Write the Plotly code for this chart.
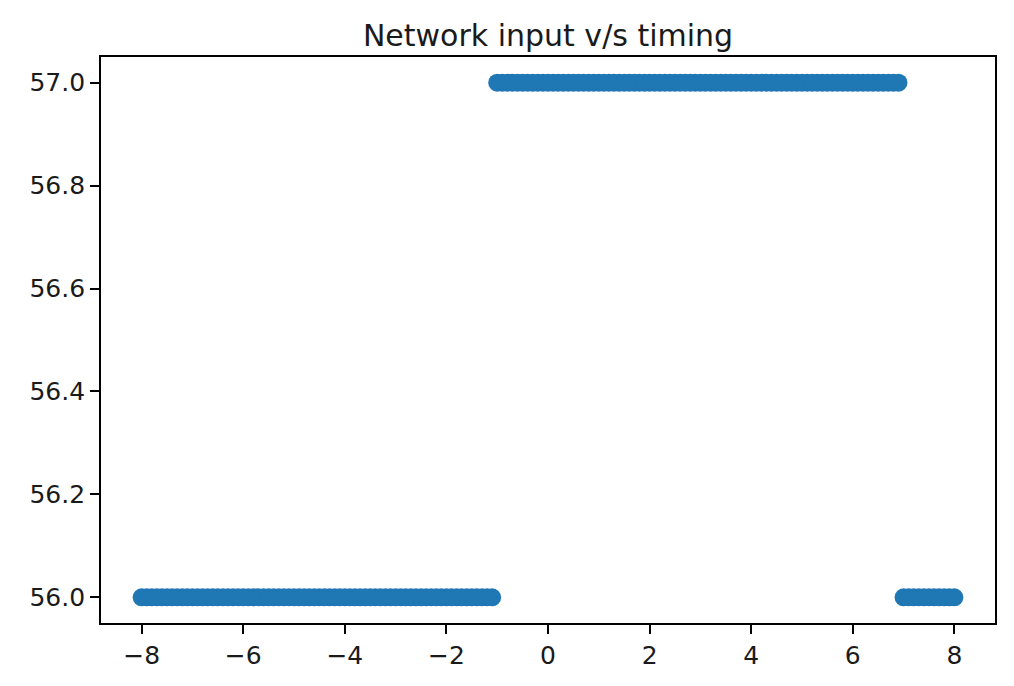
import plotly.graph_objects as go

# Data
x_low_left = [-8.0, -7.9, -7.8, -7.7, -7.6, -7.5, -7.4, -7.3, -7.2, -7.1,
              -7.0, -6.9, -6.8, -6.7, -6.6, -6.5, -6.4, -6.3, -6.2, -6.1,
              -6.0, -5.9, -5.8, -5.7, -5.6, -5.5, -5.4, -5.3, -5.2, -5.1,
              -5.0, -4.9, -4.8, -4.7, -4.6, -4.5, -4.4, -4.3, -4.2, -4.1,
              -4.0, -3.9, -3.8, -3.7, -3.6, -3.5, -3.4, -3.3, -3.2, -3.1,
              -3.0, -2.9, -2.8, -2.7, -2.6, -2.5, -2.4, -2.3, -2.2, -2.1,
              -2.0, -1.9, -1.8, -1.7, -1.6, -1.5, -1.4, -1.3, -1.2, -1.1]
x_high = [-1.0, -0.9, -0.8, -0.7, -0.6, -0.5, -0.4, -0.3, -0.2, -0.1,
          0.0, 0.1, 0.2, 0.3, 0.4, 0.5, 0.6, 0.7, 0.8, 0.9,
          1.0, 1.1, 1.2, 1.3, 1.4, 1.5, 1.6, 1.7, 1.8, 1.9,
          2.0, 2.1, 2.2, 2.3, 2.4, 2.5, 2.6, 2.7, 2.8, 2.9,
          3.0, 3.1, 3.2, 3.3, 3.4, 3.5, 3.6, 3.7, 3.8, 3.9,
          4.0, 4.1, 4.2, 4.3, 4.4, 4.5, 4.6, 4.7, 4.8, 4.9,
          5.0, 5.1, 5.2, 5.3, 5.4, 5.5, 5.6, 5.7, 5.8, 5.9,
          6.0, 6.1, 6.2, 6.3, 6.4, 6.5, 6.6, 6.7, 6.8, 6.9]
x_low_right = [7.0, 7.1, 7.2, 7.3, 7.4, 7.5, 7.6, 7.7, 7.8, 7.9, 8.0]

low_value = 56.0
high_value = 57.0

x_tick_vals = [-8, -6, -4, -2, 0, 2, 4, 6, 8]
x_tick_text = ["\u22128", "\u22126", "\u22124", "\u22122", "0", "2", "4", "6", "8"]
y_tick_vals = [56.0, 56.2, 56.4, 56.6, 56.8, 57.0]
y_tick_text = ["56.0", "56.2", "56.4", "56.6", "56.8", "57.0"]

title_text = "Network input v/s timing"

x_all = x_low_left + x_high + x_low_right
y_all = ([low_value] * len(x_low_left) + [high_value] * len(x_high)
         + [low_value] * len(x_low_right))

fig = go.Figure()
fig.add_trace(go.Scatter(
    x=x_all, y=y_all, mode="markers",
    marker=dict(size=18, color="#1f77b4", line=dict(width=0)),
    showlegend=False, hoverinfo="skip",
))

font_family = "DejaVu Sans"
text_color = "#1a1a1a"
fig.update_layout(
    width=1014, height=686,
    margin=dict(l=101, r=19, t=57, b=63),
    paper_bgcolor="white", plot_bgcolor="white",
    font=dict(family=font_family, size=25, color=text_color),
    title=dict(text=title_text, x=0.5, xref="paper", xanchor="center",
               y=1 - 35 / 686, yref="container", yanchor="middle",
               font=dict(family=font_family, size=30, color=text_color)),
    xaxis=dict(range=[-8.8, 8.8], tickvals=x_tick_vals, ticktext=x_tick_text,
               showgrid=False, zeroline=False, showline=True, mirror=True,
               linecolor="black", linewidth=1.8, ticks="outside", ticklen=9,
               tickwidth=1.8, tickcolor="black",
               tickfont=dict(family=font_family, size=25, color=text_color)),
    yaxis=dict(range=[55.95, 57.05], tickvals=y_tick_vals, ticktext=y_tick_text,
               showgrid=False, zeroline=False, showline=True, mirror=True,
               linecolor="black", linewidth=1.8, ticks="outside", ticklen=9,
               tickwidth=1.8, tickcolor="black",
               tickfont=dict(family=font_family, size=25, color=text_color)),
)

fig.write_html("out.html", config={"displayModeBar": False},
               post_script="document.body.style.margin='0';")
